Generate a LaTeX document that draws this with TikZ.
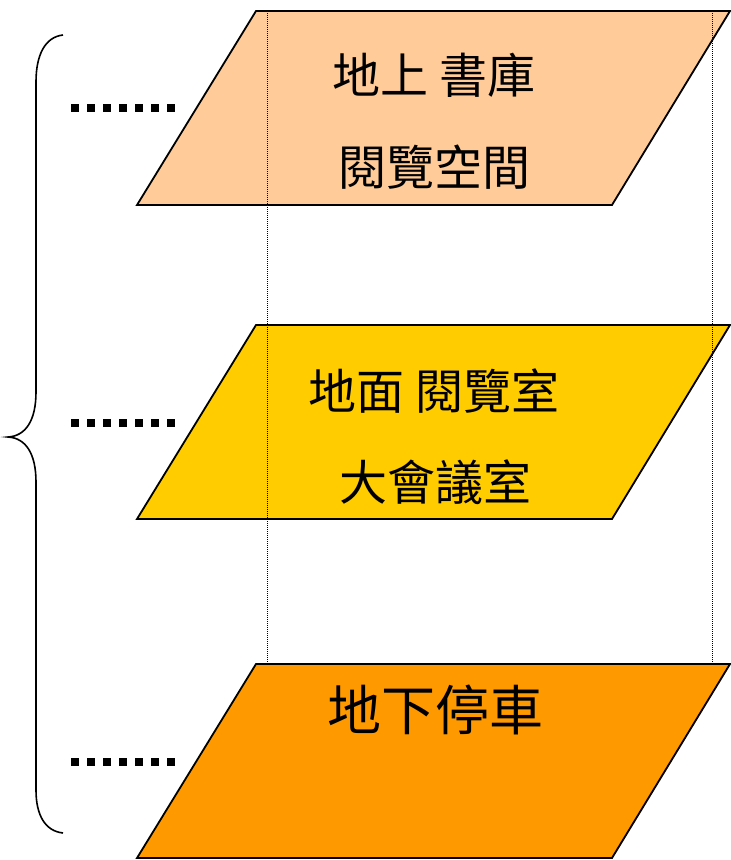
\documentclass[tikz,border=0pt]{standalone}
\usepackage{fontspec}
\newfontfamily\cjk{Noto Sans CJK TC}
\definecolor{peach}{HTML}{FFCC99}
\definecolor{gold}{HTML}{FFCC00}
\definecolor{orng}{HTML}{FF9900}
\tikzset{
  floor/.style={draw=black, line width=1.8pt, line join=miter},
  guide/.style={draw=black, line width=1pt, dash pattern=on 1pt off 1pt},
  leader/.style={draw=black, line width=8pt, dash pattern=on 8pt off 8pt, line cap=butt},
  brace/.style={draw=black, line width=1.6pt},
  lbl/.style={font=\cjk\fontsize{48}{52}\selectfont, inner sep=0pt, anchor=center},
  lblbig/.style={font=\cjk\fontsize{54}{58}\selectfont, inner sep=0pt, anchor=center}
}
\begin{document}
\begin{tikzpicture}[x=1pt,y=-1pt]
\useasboundingbox (0,0) rectangle (731,860);
% floors
\draw[floor, fill=peach] (256,11) -- (730,11) -- (612,205) -- (137,205) -- cycle;
\draw[floor, fill=gold] (256,325) -- (730,325) -- (612,519) -- (137,519) -- cycle;
\draw[floor, fill=orng] (256,664) -- (730,664) -- (612,858) -- (137,858) -- cycle;
% guide lines
\coordinate (gla) at (267,11);
\coordinate (glb) at (267,664);
\coordinate (gra) at (712,11);
\coordinate (grb) at (712,664);
\draw[guide] (gla) -- (glb);
\draw[guide] (gra) -- (grb);
% leaders
\coordinate (l1a) at (71,108); \coordinate (l1b) at (175,108);
\coordinate (l2a) at (71,423); \coordinate (l2b) at (175,423);
\coordinate (l3a) at (71,762); \coordinate (l3b) at (175,762);
\draw[leader] (l1a) -- (l1b);
\draw[leader] (l2a) -- (l2b);
\draw[leader] (l3a) -- (l3b);
% brace
\draw[brace] (63,35) .. controls (45,37) and (36,55) .. (36,82) -- (36,392)
  .. controls (36,420) and (26,436) .. (8,437)
  .. controls (26,438) and (36,454) .. (36,482) -- (36,790)
  .. controls (36,815) and (45,831) .. (63,833);
% labels
\node[lbl] (t1) at (434,75) {地上 書庫};
\node[lbl] (t2) at (434,167) {閱覽空間};
\node[lbl] (m1) at (434,391) {地面 閱覽室};
\node[lbl] (m2) at (435,482) {大會議室};
\node[lblbig] (b1) at (435,710) {地下停車};
\end{tikzpicture}
\end{document}
